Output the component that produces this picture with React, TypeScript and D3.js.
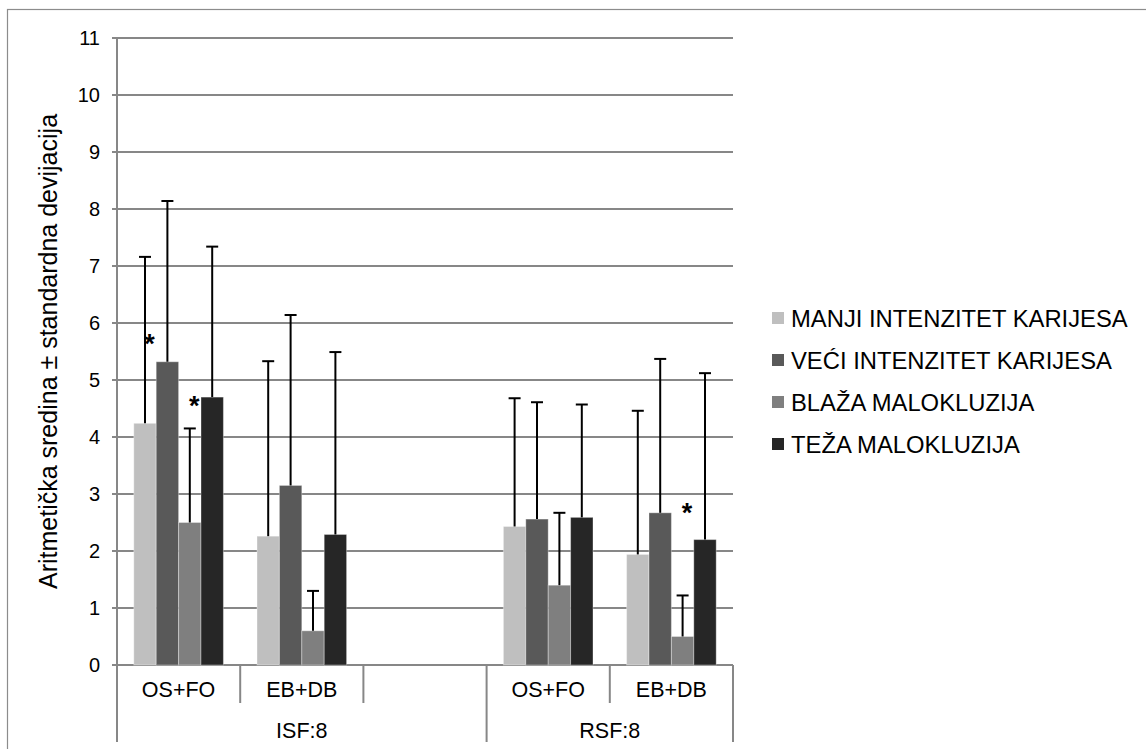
import React from "react";
import * as d3 from "d3";

// chart values
const categories = ["OS+FO", "EB+DB", "", "OS+FO", "EB+DB"];
const outerGroups = ["ISF:8", "RSF:8"];
const outerSpan = [[0, 2], [3, 4]];

const seriesNames = [
  "MANJI INTENZITET KARIJESA",
  "VEĆI INTENZITET KARIJESA",
  "BLAŽA MALOKLUZIJA",
  "TEŽA MALOKLUZIJA",
];
const seriesColors = ["#bfbfbf", "#595959", "#7f7f7f", "#262626"];

const manjiMean = [4.24, 2.26, null, 2.43, 1.94];
const veciMean = [5.32, 3.15, null, 2.56, 2.67];
const blazaMean = [2.5, 0.6, null, 1.4, 0.5];
const tezaMean = [4.7, 2.29, null, 2.59, 2.2];

const manjiSd = [2.92, 3.07, null, 2.25, 2.52];
const veciSd = [2.82, 2.99, null, 2.05, 2.7];
const blazaSd = [1.65, 0.7, null, 1.27, 0.72];
const tezaSd = [2.64, 3.2, null, 1.98, 2.92];

// significance marks: [category index, series index, value]
const stars = [
  [0, 0, 5.74],
  [0, 2, 4.65],
  [4, 2, 2.78],
];

const yTicks = d3.range(0, 12);

const W = 1146;
const H = 749;
const plot = { left: 117, right: 733, top: 38, bottom: 665 };
const font = "'Liberation Sans', Arial, sans-serif";

export default function App() {
  const means = [manjiMean, veciMean, blazaMean, tezaMean];
  const sds = [manjiSd, veciSd, blazaSd, tezaSd];

  const y = d3.scaleLinear().domain([0, 11]).range([plot.bottom, plot.top]);
  const x = d3
    .scaleBand<number>()
    .domain(d3.range(categories.length))
    .range([plot.left, plot.right])
    .paddingInner(0)
    .paddingOuter(0);
  const xs = d3
    .scaleBand<number>()
    .domain(d3.range(seriesNames.length))
    .range([0, x.bandwidth()])
    .paddingInner(0)
    .paddingOuter(0.75);
  const bw = xs.bandwidth();

  // category boundaries
  const bounds = d3.range(categories.length + 1).map((i) => plot.left + i * x.step());
  const outerBounds = new Set([0, ...outerSpan.map((s) => s[1] + 1)]);

  const grid = "#878787";

  return (
    <svg
      width={W}
      height={H}
      style={{ position: "absolute", left: 0, top: 0, background: "#fff" }}
      fontFamily={font}
    >
      {/* outer chart border */}
      <rect x={7.5} y={9.5} width={W} height={H} fill="none" stroke="#8c8c8c" strokeWidth={1.2} />

      {/* horizontal gridlines + y ticks */}
      {yTicks.map((t) => (
        <g key={t}>
          <line x1={plot.left - 5} x2={plot.right} y1={y(t)} y2={y(t)} stroke={grid} strokeWidth={2} />
          <text x={100} y={y(t) + 7} textAnchor="end" fontSize={20} fill="#000">
            {t}
          </text>
        </g>
      ))}

      {/* y axis line */}
      <line x1={plot.left} x2={plot.left} y1={plot.top} y2={plot.bottom} stroke={grid} strokeWidth={2} />

      {/* category separators */}
      {bounds.map((bx, i) => (
        <line
          key={i}
          x1={bx}
          x2={bx}
          y1={plot.bottom}
          y2={outerBounds.has(i) ? 742 : 703}
          stroke={grid}
          strokeWidth={2}
        />
      ))}

      {/* bars */}
      {means.map((vals, s) =>
        vals.map((v, c) =>
          v == null ? null : (
            <rect
              key={`b${s}-${c}`}
              x={(x(c) as number) + (xs(s) as number)}
              y={y(v)}
              width={bw}
              height={y(0) - y(v)}
              fill={seriesColors[s]}
              stroke="#ffffff"
              strokeOpacity={0.35}
              strokeWidth={1}
            />
          )
        )
      )}

      {/* error bars (plus only) */}
      {means.map((vals, s) =>
        vals.map((v, c) => {
          const sd = sds[s][c];
          if (v == null || sd == null) return null;
          const cx = (x(c) as number) + (xs(s) as number) + bw / 2;
          const top = y(v + sd);
          return (
            <g key={`e${s}-${c}`} stroke="#000" strokeWidth={2}>
              <line x1={cx} x2={cx} y1={y(v)} y2={top} />
              <line x1={cx - 6} x2={cx + 6} y1={top} y2={top} />
            </g>
          );
        })
      )}

      {/* significance stars */}
      {stars.map(([c, s, v], i) => (
        <text
          key={`s${i}`}
          x={(x(c) as number) + (xs(s) as number) + bw * 0.7}
          y={y(v) + 15}
          textAnchor="middle"
          fontSize={27}
          fontWeight="bold"
          fill="#000"
        >
          *
        </text>
      ))}

      {/* category labels */}
      {categories.map((lab, c) => (
        <text
          key={`c${c}`}
          x={(x(c) as number) + x.bandwidth() / 2}
          y={697}
          textAnchor="middle"
          fontSize={21.5}
          fill="#000"
        >
          {lab}
        </text>
      ))}

      {/* outer group labels */}
      {outerGroups.map((lab, g) => (
        <text
          key={`g${g}`}
          x={(bounds[outerSpan[g][0]] + bounds[outerSpan[g][1] + 1]) / 2}
          y={738}
          textAnchor="middle"
          fontSize={21.5}
          fill="#000"
        >
          {lab}
        </text>
      ))}

      {/* y axis title */}
      <text
        transform={`translate(57, ${(plot.top + plot.bottom) / 2}) rotate(-90)`}
        textAnchor="middle"
        fontSize={25}
        fill="#000"
      >
        Aritmetička sredina ± standardna devijacija
      </text>

      {/* legend */}
      {seriesNames.map((name, i) => (
        <g key={`l${i}`} transform={`translate(772, ${312 + i * 42})`}>
          <rect x={0} y={0} width={12} height={12} fill={seriesColors[i]} />
          <text x={19} y={15} fontSize={23.8} fill="#000">
            {name}
          </text>
        </g>
      ))}
    </svg>
  );
}
